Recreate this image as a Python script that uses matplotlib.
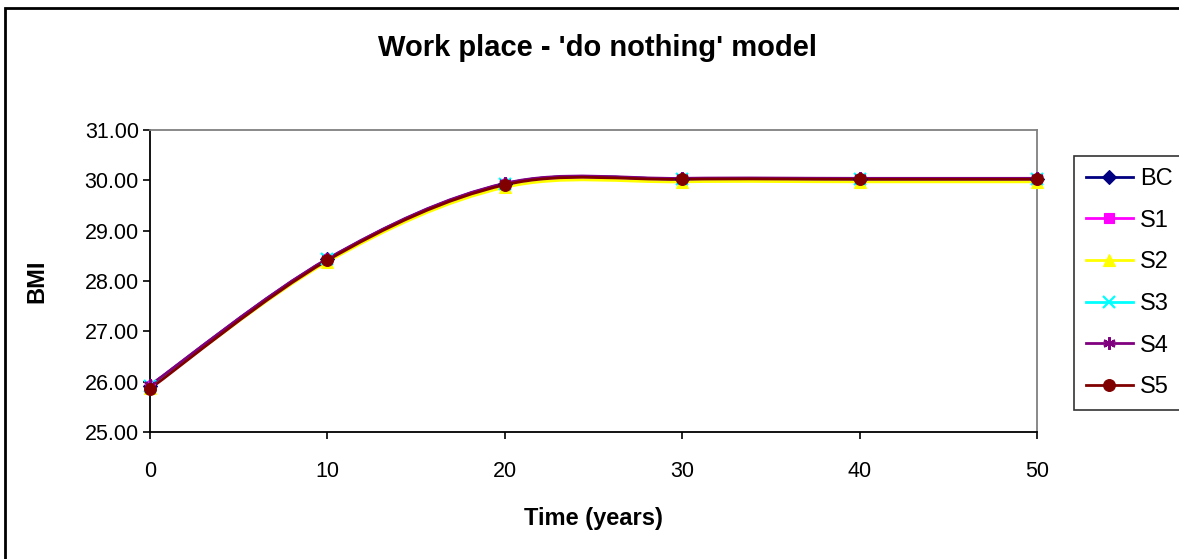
import numpy as np
import matplotlib
matplotlib.use("Agg")
import matplotlib.pyplot as plt
from matplotlib.path import Path
from matplotlib.patches import PathPatch, Rectangle
from matplotlib.lines import Line2D

plt.rcParams['font.family'] = ['Liberation Sans', 'DejaVu Sans']

years = [0, 10, 20, 30, 40, 50]
bc = [25.92, 28.43, 29.93, 30.03, 30.03, 30.03]
s1 = [25.92, 28.43, 29.93, 30.03, 30.03, 30.03]
s2 = [25.88, 28.38, 29.86, 29.97, 29.97, 29.97]
s3 = [25.92, 28.43, 29.93, 30.03, 30.03, 30.03]
s4 = [25.93, 28.44, 29.94, 30.04, 30.04, 30.04]
s5 = [25.86, 28.41, 29.91, 30.02, 30.02, 30.02]

series = [
    ("BC", bc, "#000080", "D", 7),
    ("S1", s1, "#FF00FF", "s", 7),
    ("S2", s2, "#FFFF00", "^", 8),
    ("S3", s3, "#00FFFF", "x", 8),
    ("S4", s4, "#800080", (6, 2, 0), 9),
    ("S5", s5, "#800000", "o", 8.5),
]

y_ticks = [25, 26, 27, 28, 29, 30, 31]
x_ticks = [0, 10, 20, 30, 40, 50]


def smooth_path(xs, ys):
    """Cardinal-spline bezier path through the given points."""
    xs = np.asarray(xs, float)
    ys = np.asarray(ys, float)
    n = len(xs)
    verts = [(xs[0], ys[0])]
    codes = [Path.MOVETO]
    for i in range(n - 1):
        p0 = (xs[max(i - 1, 0)], ys[max(i - 1, 0)])
        p1 = (xs[i], ys[i])
        p2 = (xs[i + 1], ys[i + 1])
        p3 = (xs[min(i + 2, n - 1)], ys[min(i + 2, n - 1)])
        c1 = (p1[0] + (p2[0] - p0[0]) / 6, p1[1] + (p2[1] - p0[1]) / 6)
        c2 = (p2[0] - (p3[0] - p1[0]) / 6, p2[1] - (p3[1] - p1[1]) / 6)
        verts += [c1, c2, p2]
        codes += [Path.CURVE4] * 3
    return Path(verts, codes)


fig = plt.figure(figsize=(11.79, 5.59), dpi=100)
fig.patch.set_facecolor("white")

# outer chart frame
fig.patches.append(Rectangle((5 / 1179, -0.1), 1.2, 1.1 - 8 / 559,
                             transform=fig.transFigure, fill=False,
                             edgecolor="black", linewidth=2))

ax = fig.add_axes([150 / 1179, 1 - 432 / 559, (1037 - 150) / 1179, (432 - 130) / 559])

LW = 2.0
handles = []
for name, vals, color, marker, ms in series:
    mew = 1.6 if marker in ("x", (6, 2, 0)) else 0.8
    ax.add_patch(PathPatch(smooth_path(years, vals), fill=False,
                           edgecolor=color, linewidth=LW, zorder=2))
    ax.plot(years, vals, linestyle="none", marker=marker, color=color,
            markersize=ms, markeredgewidth=mew,
            markeredgecolor=color, zorder=3, clip_on=False)
    handles.append(Line2D([0], [0], color=color, linewidth=LW, marker=marker,
                          markersize=ms, markeredgecolor=color,
                          markeredgewidth=mew))

ax.set_xlim(0, 50)
ax.set_ylim(25, 31)
ax.set_xticks(x_ticks)
ax.set_xticklabels([str(v) for v in x_ticks], fontsize=15.5)
ax.set_yticks(y_ticks)
ax.set_yticklabels([f"{v:.2f}" for v in y_ticks], fontsize=15.5)
ax.tick_params(axis="both", direction="out", length=5, width=1.2, color="black")
ax.tick_params(axis="x", pad=16)
ax.tick_params(axis="y", pad=3)

for side in ("left", "bottom"):
    ax.spines[side].set_color("black")
    ax.spines[side].set_linewidth(1.3)
for side in ("top", "right"):
    ax.spines[side].set_color("#808080")
    ax.spines[side].set_linewidth(1.3)

ax.set_xlabel("Time (years)", fontsize=17, fontweight="bold", labelpad=18)
ax.set_ylabel("BMI", fontsize=17, fontweight="bold", labelpad=26)

fig.text(597 / 1179, 1 - 48 / 559, "Work place - 'do nothing' model",
         fontsize=21, fontweight="bold", ha="center", va="center")

leg = fig.legend(handles, [s[0] for s in series], loc="upper left",
                 bbox_to_anchor=(1074 / 1179, 1 - 156 / 559),
                 fontsize=17, frameon=True, fancybox=False, handlelength=2.0,
                 handletextpad=0.3, labelspacing=0.835, borderpad=0.5,
                 borderaxespad=0)
leg.get_frame().set_edgecolor("black")
leg.get_frame().set_linewidth(1.2)

fig.savefig("out.png", dpi=100, facecolor="white")
